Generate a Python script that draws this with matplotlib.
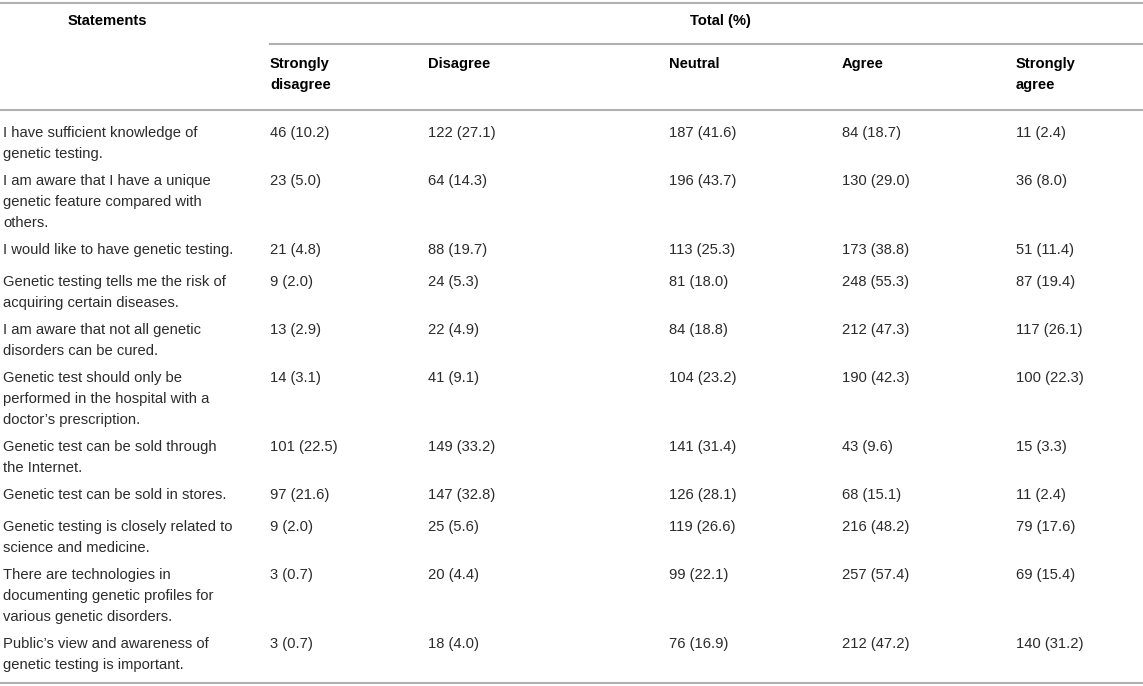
import matplotlib.pyplot as plt

plt.rcParams['font.family'] = ['Liberation Sans', 'DejaVu Sans']

statements = [
    "I have sufficient knowledge of\ngenetic testing.",
    "I am aware that I have a unique\ngenetic feature compared with\nothers.",
    "I would like to have genetic testing.",
    "Genetic testing tells me the risk of\nacquiring certain diseases.",
    "I am aware that not all genetic\ndisorders can be cured.",
    "Genetic test should only be\nperformed in the hospital with a\ndoctor\u2019s prescription.",
    "Genetic test can be sold through\nthe Internet.",
    "Genetic test can be sold in stores.",
    "Genetic testing is closely related to\nscience and medicine.",
    "There are technologies in\ndocumenting genetic profiles for\nvarious genetic disorders.",
    "Public\u2019s view and awareness of\ngenetic testing is important.",
]
columns = ["Strongly\ndisagree", "Disagree", "Neutral", "Agree", "Strongly\nagree"]
strongly_disagree = ["46 (10.2)", "23 (5.0)", "21 (4.8)", "9 (2.0)", "13 (2.9)", "14 (3.1)",
                     "101 (22.5)", "97 (21.6)", "9 (2.0)", "3 (0.7)", "3 (0.7)"]
disagree = ["122 (27.1)", "64 (14.3)", "88 (19.7)", "24 (5.3)", "22 (4.9)", "41 (9.1)",
            "149 (33.2)", "147 (32.8)", "25 (5.6)", "20 (4.4)", "18 (4.0)"]
neutral = ["187 (41.6)", "196 (43.7)", "113 (25.3)", "81 (18.0)", "84 (18.8)", "104 (23.2)",
           "141 (31.4)", "126 (28.1)", "119 (26.6)", "99 (22.1)", "76 (16.9)"]
agree = ["84 (18.7)", "130 (29.0)", "173 (38.8)", "248 (55.3)", "212 (47.3)", "190 (42.3)",
         "43 (9.6)", "68 (15.1)", "216 (48.2)", "257 (57.4)", "212 (47.2)"]
strongly_agree = ["11 (2.4)", "36 (8.0)", "51 (11.4)", "87 (19.4)", "117 (26.1)", "100 (22.3)",
                  "15 (3.3)", "11 (2.4)", "79 (17.6)", "69 (15.4)", "140 (31.2)"]
values = [strongly_disagree, disagree, neutral, agree, strongly_agree]

W, H = 1143, 686
fig = plt.figure(figsize=(W / 100, H / 100), dpi=100)
ax = fig.add_axes([0, 0, 1, 1])
ax.set_xlim(0, W)
ax.set_ylim(H, 0)
ax.axis('off')

col_x = [270, 428, 669, 842, 1016]
lh = 21
fs = 10.6
txt_color = '#2b2b2b'
line_color = '#b0b0b0'


def put_lines(x, y, s, **kw):
    for i, part in enumerate(s.split("\n")):
        ax.text(x, y + i * lh, part, ha='left', va='center', fontsize=fs, **kw)


# rules
ax.plot([0, W], [3, 3], color=line_color, lw=1.5)
ax.plot([270, W], [44, 44], color=line_color, lw=1.5)
ax.plot([0, W], [110, 110], color=line_color, lw=1.5)
ax.plot([0, W], [683, 683], color=line_color, lw=1.5)

# header
put_lines(68, 21, "Statements", fontweight='bold', color='black')
put_lines(690, 21, "Total (%)", fontweight='bold', color='black')
for x, c in zip(col_x, columns):
    put_lines(x, 64, c, fontweight='bold', color='black')

# body
y = 133
for r, s in enumerate(statements):
    put_lines(3, y, s, color=txt_color)
    for x, col in zip(col_x, values):
        put_lines(x, y, col[r], color=txt_color)
    n = s.count("\n") + 1
    y += max(32, lh * n + 6)

fig.savefig('out.png', dpi=100, facecolor='white')
